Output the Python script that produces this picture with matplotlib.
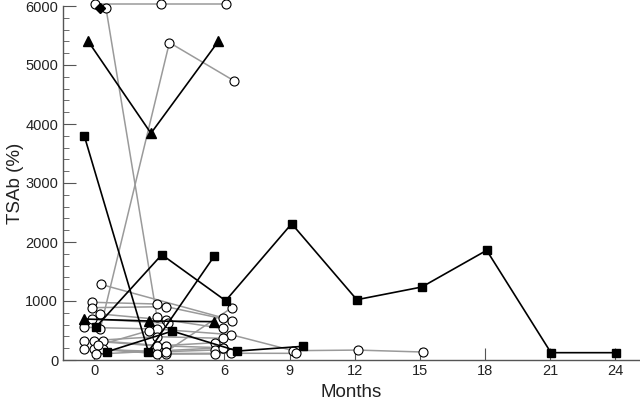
import matplotlib
matplotlib.use("Agg")
import matplotlib.pyplot as plt
from matplotlib.ticker import MultipleLocator

plt.rcParams["font.family"] = ["Liberation Sans", "DejaVu Sans"]

# grey series: open circles (months, TSAb %)
grey_months = [
    [0.05, 3.07, 6.06],
    [0.55, 2.9],
    [0.28, 3.47, 6.46],
    [0.3, 5.92],
    [-0.08, 2.88],
    [-0.08, 3.32, 6.35],
    [0.28, 3.32, 5.92],
    [-0.08, 3.4],
    [-0.45, 2.88, 6.3, 9.17, 12.14, 15.16],
    [-0.45, 2.88, 5.92],
    [0.0, 2.88, 5.57],
    [0.4, 3.32, 5.92],
    [-0.45, 3.32, 5.57],
    [0.0, 2.88, 6.3, 9.3],
    [0.4, 3.32, 5.57],
    [0.2, 2.55],
    [0.1, 5.92],
    [3.32, 6.35],
]
grey_values = [
    [6030, 6030, 6030],
    [5960, 723],
    [520, 5380, 4729],
    [1283, 717],
    [978, 949],
    [887, 904, 666],
    [780, 678, 537],
    [695, 622],
    [554, 525, 430, 158, 168, 135],
    [320, 395, 368],
    [320, 237, 293],
    [320, 237, 208],
    [186, 141, 170],
    [186, 110, 114, 113],
    [186, 100, 102],
    [250, 500],
    [100, 208],
    [141, 887],
]

# black series: filled squares
square_months = [
    [0.09, 3.12, 6.06, 9.1, 12.1, 15.09, 18.08, 21.04, 24.05],
    [-0.45, 2.5, 5.54],
    [0.61, 3.6, 6.6, 9.62],
]
square_values = [
    [559, 1785, 1005, 2310, 1022, 1237, 1859, 124, 124],
    [3800, 141, 1763],
    [141, 490, 152, 232],
]

# black series: filled triangles
triangle_months = [
    [-0.29, 2.62, 5.72],
    [-0.47, 2.55, 5.54],
]
triangle_values = [
    [5412, 3843, 5400],
    [695, 661, 650],
]

# single diamond
diamond_month = [0.28]
diamond_value = [5960]

fig = plt.figure(figsize=(6.4, 4.03), dpi=100)
ax = fig.add_axes([63 / 640, 43 / 403, 1 - 63 / 640, 354 / 403])

for xs, ys in zip(grey_months, grey_values):
    ax.plot(xs, ys, "-", color="#9a9a9a", lw=1.1, zorder=2, clip_on=False)
for xs, ys in zip(grey_months, grey_values):
    ax.plot(xs, ys, "o", mfc="white", mec="black", mew=0.8, ms=6.5,
            ls="none", zorder=3, clip_on=False)

for xs, ys in zip(square_months, square_values):
    ax.plot(xs, ys, "s-", color="black", lw=1.2, ms=5.5, zorder=4, clip_on=False)
for xs, ys in zip(triangle_months, triangle_values):
    ax.plot(xs, ys, "^-", color="black", lw=1.2, ms=6.5, zorder=4, clip_on=False)
ax.plot(diamond_month, diamond_value, "D", color="black", ms=5.5, zorder=5,
        clip_on=False)

ax.set_xlim(-1.43, 25.14)
ax.set_ylim(0, 6000)
ax.xaxis.set_major_locator(MultipleLocator(3))
ax.yaxis.set_major_locator(MultipleLocator(1000))
ax.yaxis.set_minor_locator(MultipleLocator(200))

for side in ["top", "right"]:
    ax.spines[side].set_visible(False)
for side in ["left", "bottom"]:
    ax.spines[side].set_color("#555555")
    ax.spines[side].set_linewidth(1.0)

ax.tick_params(axis="both", which="major", direction="in", length=9,
               color="#555555", labelsize=10.5, labelcolor="#222222")
ax.tick_params(axis="y", which="minor", direction="in", length=4.5,
               color="#555555")
ax.tick_params(axis="x", pad=3)

ax.set_xlabel("Months", fontsize=13.5, color="#222222", labelpad=4)
ax.set_ylabel("TSAb (%)", fontsize=13.5, color="#222222")
ax.yaxis.set_label_coords(-0.068, 0.5)

fig.savefig("out.png", dpi=100)
